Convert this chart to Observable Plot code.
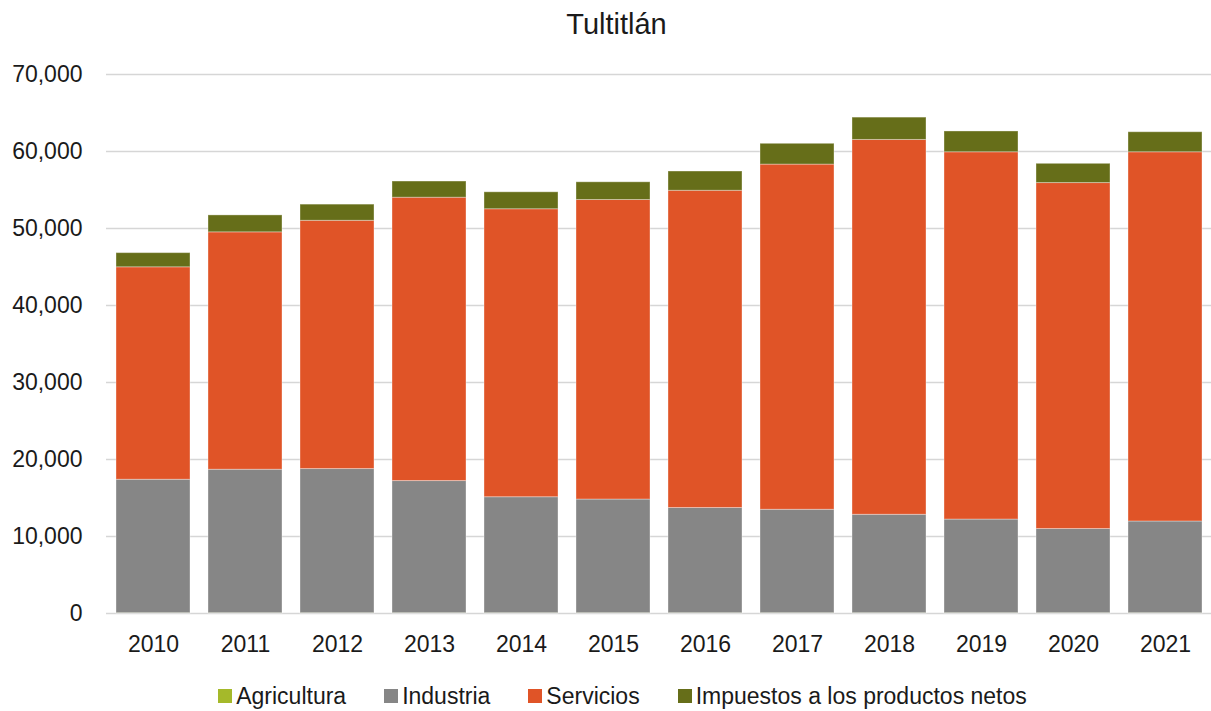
<!DOCTYPE html>
<html><head><meta charset="utf-8">
<script src="https://cdn.jsdelivr.net/npm/d3@7"></script>
<script src="https://cdn.jsdelivr.net/npm/@observablehq/plot@0.6"></script>
<style>
html,body{margin:0;padding:0;background:#fff;}
body{font-family:"Liberation Sans",Arial,sans-serif;color:#1a1a1a;width:1211px;}
#title{height:55px;line-height:48px;text-align:center;font-size:29px;padding-left:22px;box-sizing:border-box;}
#legend{display:flex;justify-content:center;align-items:center;height:32px;font-size:23px;padding-left:34px;padding-top:10px;box-sizing:content-box;}
.item{display:flex;align-items:center;margin:0 19px;}
.sw{width:14px;height:14px;margin-right:4px;}
</style>
</head><body>
<div id="title">Tultitlán</div>
<div id="chart"></div>
<div id="legend"></div>
<script>
const years = ["2010","2011","2012","2013","2014","2015","2016","2017","2018","2019","2020","2021"];
const series = ["Agricultura","Industria","Servicios","Impuestos a los productos netos"];
const colors = ["#a5b92a","#868686","#e05427","#666e19"];
const agricultura = [40,40,40,40,40,40,40,40,40,40,40,40];
const industria = [17330,18630,18720,17160,15060,14760,13660,13430,12780,12160,10930,11910];
const servicios = [27590,30830,32240,36800,37400,38900,41200,44830,48680,47700,44930,47950];
const impuestos = [1840,2200,2100,2100,2200,2300,2500,2700,2900,2700,2500,2600];
const yTicks = [0,10000,20000,30000,40000,50000,60000,70000];

const valuesBySeries = [agricultura, industria, servicios, impuestos];
const data = [];
series.forEach((s, si) => years.forEach((y, i) => data.push({year: y, series: s, value: valuesBySeries[si][i]})));

const chart = Plot.plot({
  width: 1211,
  height: 615,
  marginTop: 19,
  marginBottom: 57,
  marginLeft: 106,
  marginRight: 0,
  style: {fontFamily: "Liberation Sans, Arial, sans-serif", fontSize: "23px", color: "#1a1a1a", background: "#fff"},
  x: {domain: years, paddingInner: 0.2, paddingOuter: 0.1, label: null, tickSize: 0, tickPadding: 22},
  y: {domain: [0, 70000], ticks: yTicks, tickFormat: d3.format(","), label: null, tickSize: 0, tickPadding: 24},
  color: {domain: series, range: colors},
  marks: [
    Plot.gridY(yTicks, {stroke: "#d6d6d6", strokeOpacity: 1, strokeWidth: 1.5}),
    Plot.barY(data, Plot.stackY({order: series}, {x: "year", y: "value", fill: "series", stroke: "#ffffff", strokeOpacity: 0.35, strokeWidth: 1, inset: 0}))
  ]
});
document.getElementById("chart").appendChild(chart);

const leg = document.getElementById("legend");
series.forEach((s, i) => {
  const it = document.createElement("div");
  it.className = "item";
  const sw = document.createElement("div");
  sw.className = "sw";
  sw.style.background = colors[i];
  const t = document.createElement("span");
  t.textContent = s;
  it.appendChild(sw); it.appendChild(t);
  leg.appendChild(it);
});
</script>
</body></html>
